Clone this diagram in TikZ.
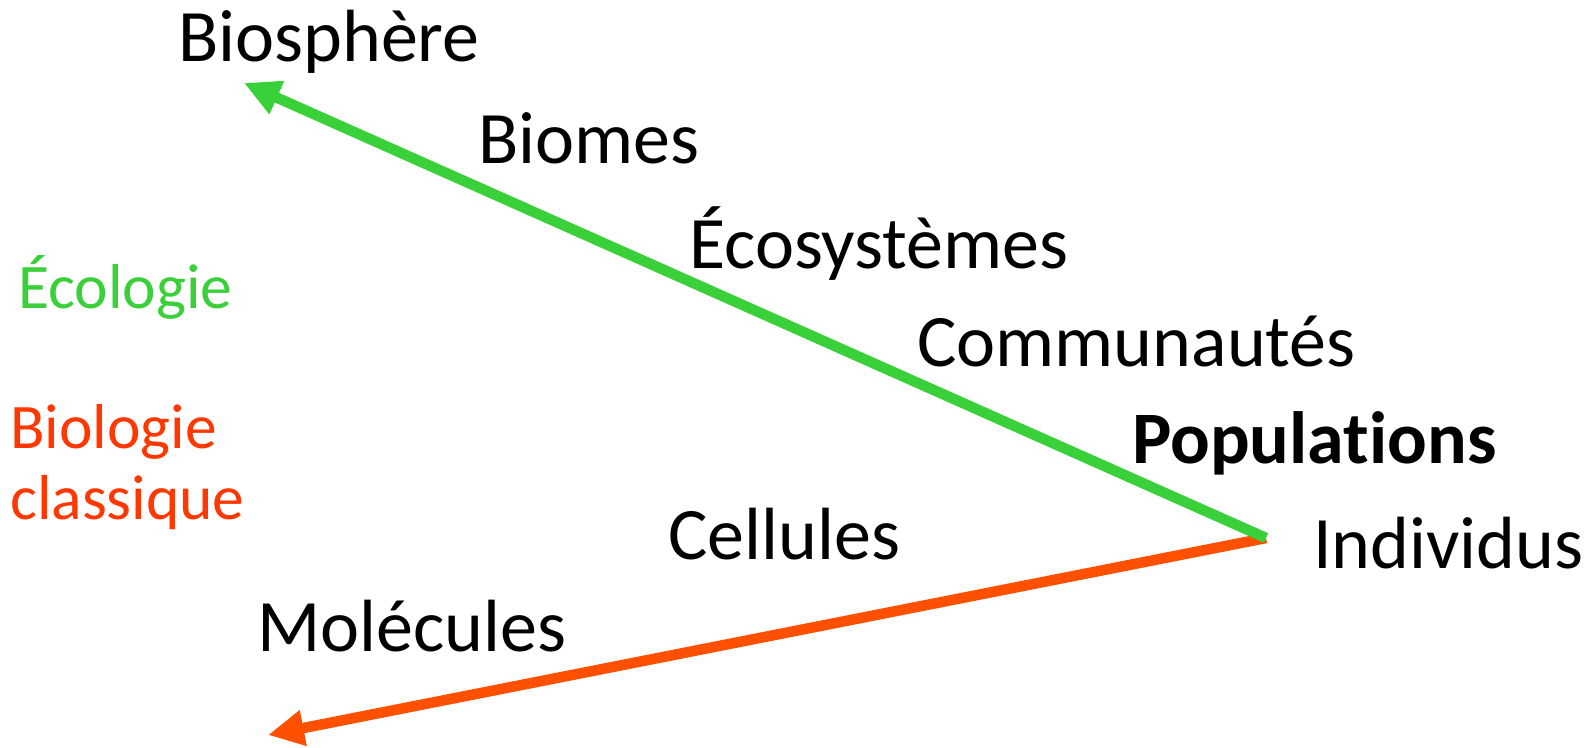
\documentclass[tikz,border=0pt]{standalone}
\usepackage{fontspec}
\setmainfont{Carlito}[Ligatures=NoCommon]
\usetikzlibrary{arrows.meta}
\definecolor{ecogreen}{RGB}{58,208,58}
\definecolor{bioorange}{RGB}{255,80,0}
\definecolor{biotext}{RGB}{255,55,0}
\tikzset{
  level/.style={anchor=base west, inner sep=0pt, font=\fontsize{74}{80}\selectfont},
  side/.style={anchor=base west, inner sep=0pt, font=\fontsize{63.5}{70}\selectfont},
  scalearrow/.style={line width=10.5pt, -{Triangle[length=36pt,width=34pt]}},
}
\begin{document}
\begin{tikzpicture}[x=1pt,y=-1pt]
  \useasboundingbox (0,0) rectangle (1595,747);

  % levels of organisation
  \node[level] (biosphere) at (178,61) {Biosphère};
  \node[level] (biomes) at (478,163) {Biomes};
  \node[level] (ecosys) at (689,268) {Écosystèmes};
  \node[level] (commun) at (917,366) {Communautés};
  \node[level,font=\fontsize{74}{80}\selectfont\bfseries] (popul) at (1132,463) {Populations};
  \node[level] (indiv) at (1313,568) {Individus};
  \node[level] (cell) at (668,559) {Cellules};
  \node[level] (molec) at (257,651) {Molécules};

  % disciplines
  \node[side,text=ecogreen] (ecol) at (18,308) {Écologie};
  \node[side,text=biotext] (biol) at (10,448) {Biologie};
  \node[side,text=biotext] (classq) at (10,519) {classique};

  % arrows
  \coordinate (origin) at (1266,538);
  \coordinate (greentip) at (244,83);
  \coordinate (orangetip) at (268,735);
  \draw[scalearrow,bioorange] (origin) -- (orangetip);
  \draw[scalearrow,ecogreen] (origin) -- (greentip);
\end{tikzpicture}
\end{document}
